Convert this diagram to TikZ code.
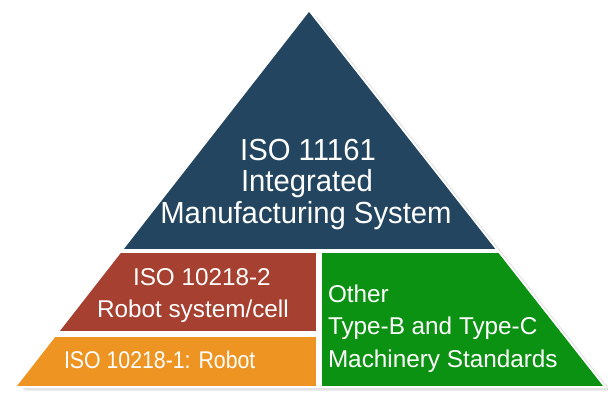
\documentclass[tikz,border=0pt]{standalone}
\usepackage{fontspec}
\setmainfont{Liberation Sans}
\newfontfamily\condfont[FakeStretch=0.88]{Liberation Sans}
\newfontfamily\slimfont[FakeStretch=0.96]{Liberation Sans}
\definecolor{navy}{RGB}{35,69,96}
\definecolor{brick}{RGB}{166,64,48}
\definecolor{amber}{RGB}{238,148,34}
\definecolor{leaf}{RGB}{12,146,18}
\begin{document}
\begin{tikzpicture}[x=1pt,y=-1pt,
  lbl/.style={text=white, inner sep=0pt, outer sep=0pt},
  bigtxt/.style={lbl, anchor=base, font=\slimfont\fontsize{30.5}{32}\selectfont},
  midtxt/.style={lbl, anchor=base west, font=\fontsize{24.3}{28}\selectfont},
  smalltxt/.style={lbl, anchor=base west, font=\condfont\fontsize{24.2}{28}\selectfont}]
\fill[white] (0,0) rectangle (608,392);
\useasboundingbox (0,0) rectangle (608,392);
\coordinate (A) at (309,12);
\coordinate (BL) at (17,386);
\coordinate (BR) at (603,386);
% soft shadow
\fill[black!7] ([shift={(8,5)}]A) -- ([shift={(8,5)}]BL) -- ([shift={(8,5)}]BR) -- cycle;
\fill[black!13] ([shift={(6,3.5)}]A) -- ([shift={(6,3.5)}]BL) -- ([shift={(6,3.5)}]BR) -- cycle;
\draw[white, line width=4, fill=white, line join=miter] (A) -- (BL) -- (BR) -- cycle;
% layers
\begin{scope}
  \clip (A) -- (BL) -- (BR) -- cycle;
  \fill[navy]  (0,0)   rectangle (608,249);
  \fill[brick] (0,253) rectangle (316,330.5);
  \fill[amber] (0,336.5) rectangle (316,386);
  \fill[leaf]  (322,253) rectangle (608,386);
\end{scope}
% texts
\node[bigtxt] (t1) at (308,160) {ISO 11161};
\node[bigtxt] (t2) at (307,191.7) {Integrated};
\node[bigtxt] (t3) at (306,223.3) {Manufacturing System};
\node[midtxt] (r1) at (133,285) {ISO 10218-2};
\node[midtxt] (r2) at (97,317) {Robot system/cell};
\node[smalltxt] (o1) at (64,368) {ISO 10218-1: Robot};
\node[midtxt] (g1) at (328,302) {Other};
\node[midtxt] (g2) at (328,334) {Type-B and Type-C};
\node[midtxt] (g3) at (328,367) {Machinery Standards};
\end{tikzpicture}
\end{document}
